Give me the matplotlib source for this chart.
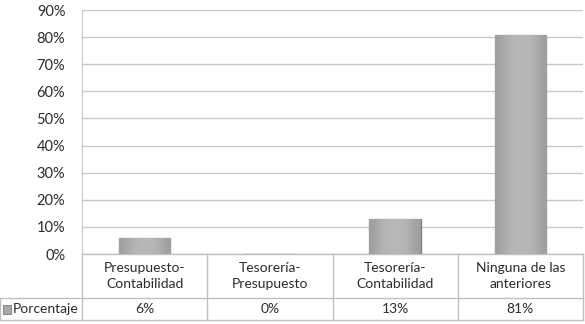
import matplotlib.pyplot as plt
import matplotlib.transforms as mtransforms
import numpy as np

plt.rcParams['font.family'] = ['Lato', 'DejaVu Sans']

categorias = ["Presupuesto-\nContabilidad", "Tesorería-\nPresupuesto",
              "Tesorería-\nContabilidad", "Ninguna de las\nanteriores"]
porcentaje = [5.9, 0.0, 12.8, 80.8]
etiquetas = ["6%", "0%", "13%", "81%"]
serie = "Porcentaje"
yticks = np.arange(0, 91, 10)

fig = plt.figure(figsize=(5.85, 3.24), dpi=100)
ax = fig.add_axes([82/585, 1-254/324, 501/585, 244/324])

x = np.arange(len(categorias))
barras = ax.bar(x, porcentaje, width=0.41, color='#b0b0b0', edgecolor='#7a7a7a',
                linewidth=0.9, zorder=3)
# degradado suave en cada barra
grad = np.array([[0.62, 0.70, 0.72, 0.72, 0.70, 0.62]])
for b in barras:
    if b.get_height() <= 0:
        continue
    im = ax.imshow(grad, cmap='gray', vmin=0, vmax=1, aspect='auto', zorder=3.5,
                   extent=[b.get_x(), b.get_x()+b.get_width(), 0, b.get_height()],
                   interpolation='bicubic')
    im.set_clip_path(b)
ax.set_aspect('auto')

ax.set_xlim(-0.5, len(categorias)-0.5)
ax.set_ylim(0, 90)
ax.set_yticks(yticks)
ax.set_yticklabels([f"{v}%" for v in yticks], fontsize=10.5, color='#2b2b2b')
ax.tick_params(axis='y', length=0, pad=12)
ax.set_xticks([])
ax.grid(axis='y', color='#c8c8c8', linewidth=1, zorder=0)
for s in ['top', 'right', 'bottom']:
    ax.spines[s].set_visible(False)
ax.spines['left'].set_color('#c8c8c8')

# tabla de datos
tr = mtransforms.blended_transform_factory(ax.transData, ax.transAxes)
lc = '#c0c0c0'
y_head = -0.180
y_row = -0.272
x_leg = -0.5 - 82/501*4
x_r = len(categorias) - 0.5
ax.plot([x_leg, x_r], [y_head, y_head], transform=tr, color=lc, lw=1, clip_on=False)
ax.plot([x_leg, x_r], [y_row, y_row], transform=tr, color=lc, lw=1, clip_on=False)
ax.plot([x_leg, x_leg], [y_head, y_row], transform=tr, color=lc, lw=1, clip_on=False)
ax.plot([-0.5, x_r], [0, 0], transform=tr, color=lc, lw=1, clip_on=False)
for b in np.arange(-0.5, len(categorias), 1.0):
    ax.plot([b, b], [0, y_row], transform=tr, color=lc, lw=1, clip_on=False)

for i, (c, e) in enumerate(zip(categorias, etiquetas)):
    ax.text(i, y_head/2, c, transform=tr, ha='center', va='center', fontsize=10,
            color='#2b2b2b', linespacing=1.35)
    ax.text(i, (y_head+y_row)/2, e, transform=tr, ha='center', va='center', fontsize=10,
            color='#2b2b2b')

ax.add_patch(plt.Rectangle((x_leg+0.025, (y_head+y_row)/2-0.018), 0.06, 0.036, transform=tr,
                           facecolor='#a8a8a8', edgecolor='#7a7a7a', lw=0.6, clip_on=False))
ax.text(x_leg+0.105, (y_head+y_row)/2, serie, transform=tr, ha='left', va='center',
        fontsize=10, color='#2b2b2b')

fig.savefig("out.png", dpi=100)
